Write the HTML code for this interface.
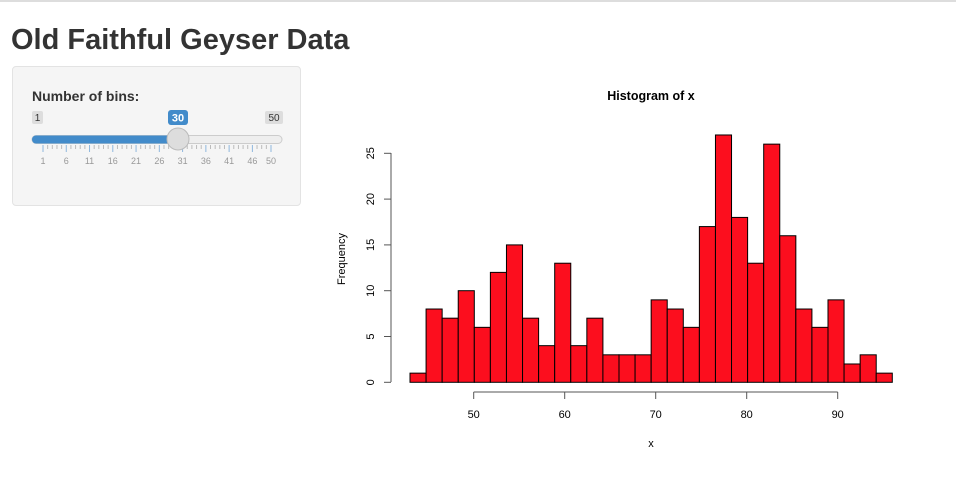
<!DOCTYPE html>
<html><head><meta charset="utf-8"><style>
body{margin:0;width:956px;height:487px;background:#fff;font-family:"Liberation Sans",sans-serif;position:relative;overflow:hidden}
.top{position:absolute;left:0;top:0;width:956px;height:2px;background:#ddd}
h1{position:absolute;left:11px;top:22px;margin:0;font-size:29px;font-weight:bold;color:#333;line-height:36px}
.panel{position:absolute;left:12px;top:66px;width:287px;height:138px;background:#f5f5f5;border:1px solid #e3e3e3;border-radius:4px}
svg{position:absolute;left:0;top:0}
</style></head><body>
<div class="top"></div>
<h1>Old Faithful Geyser Data</h1>
<div class="panel"></div>
<svg width="956" height="487" id="s" font-family="Liberation Sans, sans-serif">
<text x="32" y="101" font-size="14" font-weight="bold" fill="#333">Number of bins:</text>
<rect x="32" y="111" width="11" height="13" rx="2" fill="#ddd"/><text x="37.5" y="121" font-size="10" fill="#333" text-anchor="middle">1</text>
<rect x="265" y="111" width="18" height="13" rx="2" fill="#ddd"/><text x="274" y="121" font-size="10" fill="#333" text-anchor="middle">50</text>
<rect x="168" y="110" width="20" height="15" rx="3" fill="#428bca"/><text x="178" y="121.5" font-size="11" font-weight="bold" fill="#fff" text-anchor="middle">30</text>
<rect x="32" y="135.5" width="250" height="8" rx="4" fill="#eee" stroke="#ccc" stroke-width="1"/>
<rect x="32" y="135.5" width="146" height="8" rx="4" fill="#428bca"/>
<g id="ticks"></g>
<circle cx="178" cy="139" r="11" fill="#ddd" stroke="#bbb"/>
<text x="651" y="100" font-size="12.5" font-weight="bold" text-anchor="middle">Histogram of x</text>
<g id="bars"></g>
<line x1="391" y1="153" x2="391" y2="382" stroke="#555"/>
<line x1="473.7" y1="392" x2="837.7" y2="392" stroke="#555"/>
<g id="ax" font-size="11"></g>
<text transform="translate(345,259) rotate(-90)" font-size="11" text-anchor="middle">Frequency</text>
<text x="651" y="447" font-size="11" text-anchor="middle">x</text>
</svg>
<script>
var NS="http://www.w3.org/2000/svg";
function el(p,t,a,txt){var e=document.createElementNS(NS,t);for(var k in a)e.setAttribute(k,a[k]);if(txt!=null)e.textContent=txt;document.getElementById(p).appendChild(e);}
var c=[1,8,7,10,6,12,15,7,4,13,4,7,3,3,3,9,8,6,17,27,18,13,26,16,8,6,9,2,3,1];
var bw=53/30;
function X(v){return 473.7+(v-50)*9.1;}
function Y(v){return 382.3-v*9.16;}
for(var i=0;i<30;i++){var x0=X(43+i*bw),x1=X(43+(i+1)*bw);
el("bars","rect",{x:x0,y:Y(c[i]),width:x1-x0,height:c[i]*9.16,fill:"#fc0e1e",stroke:"#000","stroke-width":1});}
[50,60,70,80,90].forEach(function(v){el("ax","line",{x1:X(v),y1:392,x2:X(v),y2:399,stroke:"#555"});el("ax","text",{x:X(v),y:418,"text-anchor":"middle"},v);});
[0,5,10,15,20,25].forEach(function(v){var y=Y(v);el("ax","line",{x1:384,y1:y,x2:391,y2:y,stroke:"#555"});el("ax","text",{transform:"translate(374,"+y+") rotate(-90)","text-anchor":"middle"},v);});
function S(v){return 43+(v-1)*228/49;}
var maj=[1,6,11,16,21,26,31,36,41,46,50];
maj.forEach(function(v){el("ticks","line",{x1:S(v),y1:145,x2:S(v),y2:152,stroke:"#8fb7dd"});});
for(var k=0;k<maj.length-1;k++){var a=S(maj[k]),b=S(maj[k+1]);var n=(k==maj.length-2)?3:4;for(var j=1;j<=n;j++){var x=a+(b-a)*j/(n+1);el("ticks","line",{x1:x,y1:145,x2:x,y2:149,stroke:"#bbb"});}}
maj.forEach(function(v){el("ticks","text",{x:S(v),y:164,"font-size":9,fill:"#999","text-anchor":"middle"},v);});
</script>
</body></html>
